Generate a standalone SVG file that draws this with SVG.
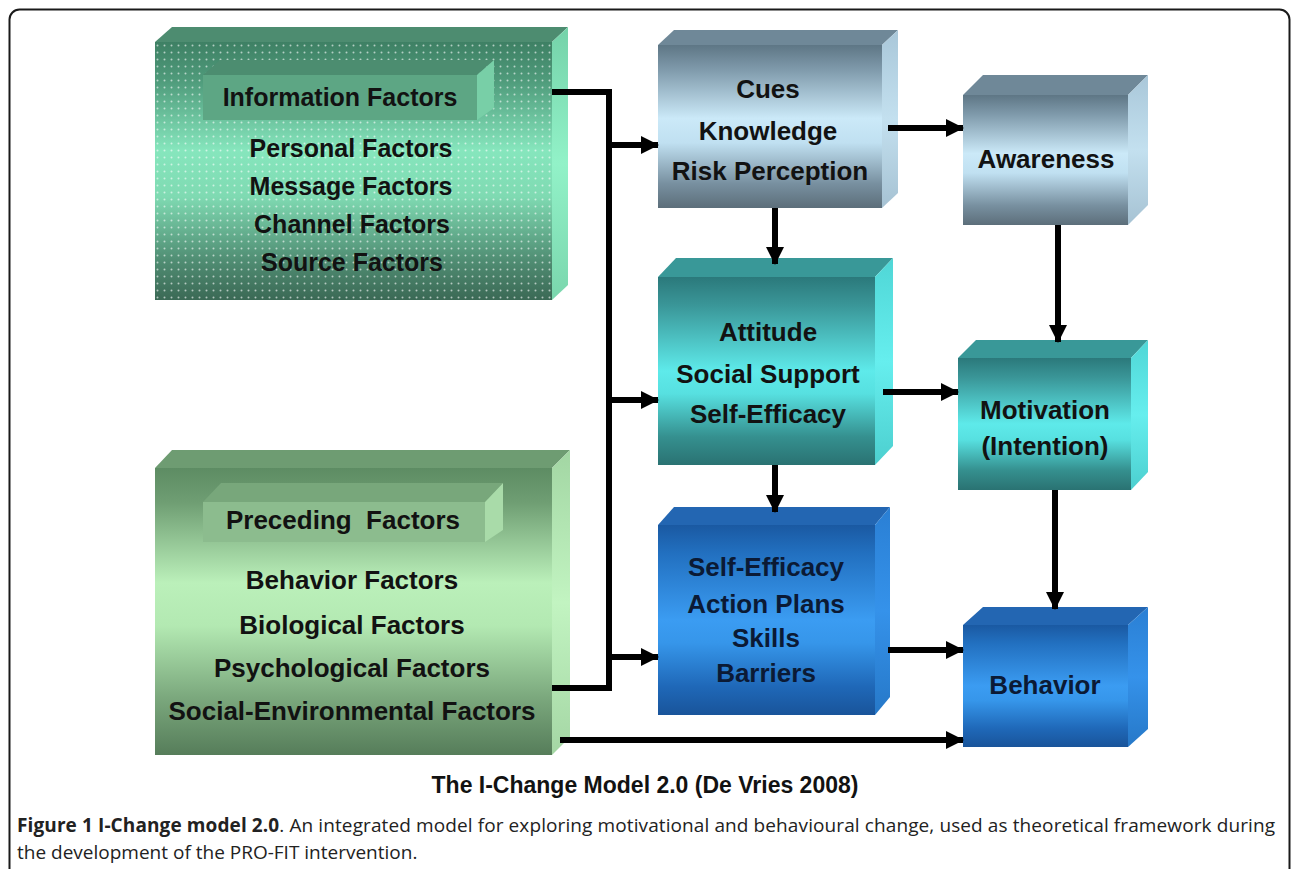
<svg xmlns="http://www.w3.org/2000/svg" width="1292" height="869" viewBox="0 0 1292 869">
<style>
.lbl{font-family:"Liberation Sans",Arial,sans-serif;font-weight:bold;font-size:26px;fill:#121212;text-anchor:middle}
.sm{font-size:25px}
.blue{fill:#0b1a35}
.cap{font-family:"Open Sans","Liberation Sans",sans-serif;font-size:19px;fill:#222}
.conn{fill:none;stroke:#000;stroke-width:6}
</style>
<defs>
<linearGradient id="gInfo" x1="0" y1="0" x2="0" y2="1">
<stop offset="0" stop-color="#3e8064"/><stop offset="0.15" stop-color="#4f9b7b"/><stop offset="0.42" stop-color="#86e6bd"/><stop offset="0.6" stop-color="#7fdab2"/><stop offset="0.85" stop-color="#4f8c72"/><stop offset="1" stop-color="#3b6955"/>
</linearGradient>
<linearGradient id="gInfoR" x1="0" y1="0" x2="0" y2="1"><stop offset="0" stop-color="#74d2a9"/><stop offset="0.5" stop-color="#92f2c8"/><stop offset="1" stop-color="#7ad6ad"/></linearGradient>
<linearGradient id="gPre" x1="0" y1="0" x2="0" y2="1">
<stop offset="0" stop-color="#5d8c63"/><stop offset="0.12" stop-color="#6f9e73"/><stop offset="0.4" stop-color="#bbf0ba"/><stop offset="0.55" stop-color="#b3e9b2"/><stop offset="0.8" stop-color="#7ba87d"/><stop offset="1" stop-color="#567d5a"/>
</linearGradient>
<linearGradient id="gPreR" x1="0" y1="0" x2="0" y2="1"><stop offset="0" stop-color="#a2d6a3"/><stop offset="0.5" stop-color="#c2f4c1"/><stop offset="1" stop-color="#a4d6a4"/></linearGradient>
<linearGradient id="gGrey" x1="0" y1="0" x2="0" y2="1">
<stop offset="0" stop-color="#5e7685"/><stop offset="0.15" stop-color="#7f9aab"/><stop offset="0.45" stop-color="#cbe9f8"/><stop offset="0.6" stop-color="#c0e0f1"/><stop offset="0.85" stop-color="#7890a0"/><stop offset="1" stop-color="#5c6e7a"/>
</linearGradient>
<linearGradient id="gGreyR" x1="0" y1="0" x2="0" y2="1"><stop offset="0" stop-color="#a9c7d9"/><stop offset="0.5" stop-color="#c3e0ef"/><stop offset="1" stop-color="#a6c2d3"/></linearGradient>
<linearGradient id="gTeal" x1="0" y1="0" x2="0" y2="1">
<stop offset="0" stop-color="#2b797b"/><stop offset="0.15" stop-color="#3a9698"/><stop offset="0.5" stop-color="#5eeaea"/><stop offset="0.62" stop-color="#57e0e0"/><stop offset="0.85" stop-color="#35908f"/><stop offset="1" stop-color="#2a7272"/>
</linearGradient>
<linearGradient id="gTealR" x1="0" y1="0" x2="0" y2="1"><stop offset="0" stop-color="#4fd6d6"/><stop offset="0.5" stop-color="#66eeee"/><stop offset="1" stop-color="#4ccfcf"/></linearGradient>
<linearGradient id="gBlue" x1="0" y1="0" x2="0" y2="1">
<stop offset="0" stop-color="#1a59a2"/><stop offset="0.15" stop-color="#2270c0"/><stop offset="0.5" stop-color="#3b9cf2"/><stop offset="0.62" stop-color="#3696ea"/><stop offset="0.85" stop-color="#1f68b8"/><stop offset="1" stop-color="#19549a"/>
</linearGradient>
<linearGradient id="gBlueR" x1="0" y1="0" x2="0" y2="1"><stop offset="0" stop-color="#2a7fd4"/><stop offset="0.5" stop-color="#3592ea"/><stop offset="1" stop-color="#2678c8"/></linearGradient>
<pattern id="dots" patternUnits="userSpaceOnUse" width="7" height="7"><circle cx="3.5" cy="3.5" r="1" fill="#ffffff" fill-opacity="0.6"/></pattern>
<marker id="ah" markerUnits="userSpaceOnUse" markerWidth="18" markerHeight="18" refX="17" refY="9" orient="auto"><path d="M0,0 L18,9 L0,18 Z" fill="#000"/></marker>
</defs>
<rect width="1292" height="869" fill="#fff"/>
<rect x="9.5" y="9.5" width="1280" height="900" rx="10" fill="none" stroke="#1a1a1a" stroke-width="2"/>

<g id="info-factors">
<rect x="155" y="42" width="397" height="258" fill="url(#gInfo)"/>
<rect x="155" y="42" width="397" height="258" fill="url(#dots)"/>
<polygon points="155,42 172,27 568,27 552,42" fill="#4d8c70"/>
<polygon points="552,42 568,27 568,285 552,300" fill="url(#gInfoR)"/>
<rect x="203" y="75" width="274" height="45" fill="#5da684"/>
<polygon points="203,75 220,60 494,60 477,75" fill="#4c8d70"/>
<polygon points="477,75 494,60 494,108 477,120" fill="#78cfa7"/>
<text class="lbl sm" x="340" y="106">Information Factors</text>
<text class="lbl sm" x="351" y="157">Personal Factors</text>
<text class="lbl sm" x="351" y="195">Message Factors</text>
<text class="lbl sm" x="352" y="233">Channel Factors</text>
<text class="lbl sm" x="352" y="271">Source Factors</text>
</g>

<g id="preceding-factors">
<rect x="155" y="468" width="397" height="287" fill="url(#gPre)"/>
<polygon points="155,468 172,450 570,450 552,468" fill="#6e9c72"/>
<polygon points="552,468 570,450 570,737 552,755" fill="url(#gPreR)"/>
<rect x="203" y="502" width="282" height="40" fill="#8cbc8e"/>
<polygon points="203,502 221,483 503,483 485,502" fill="#78a77b"/>
<polygon points="485,502 503,483 503,530 485,542" fill="#a9dba9"/>
<text class="lbl" x="343" y="529" xml:space="preserve">Preceding  Factors</text>
<text class="lbl" x="352" y="589">Behavior Factors</text>
<text class="lbl" x="352" y="634">Biological Factors</text>
<text class="lbl" x="352" y="677">Psychological Factors</text>
<text class="lbl" x="352" y="720">Social-Environmental Factors</text>
</g>

<g id="cues">
<rect x="658" y="45" width="224" height="163" fill="url(#gGrey)"/>
<polygon points="658,45 674,30 898,30 882,45" fill="#6f8898"/>
<polygon points="882,45 898,30 898,193 882,208" fill="url(#gGreyR)"/>
<text class="lbl" x="768" y="98">Cues</text>
<text class="lbl" x="768" y="140">Knowledge</text>
<text class="lbl" x="770" y="180">Risk Perception</text>
</g>

<g id="awareness">
<rect x="963" y="95" width="165" height="130" fill="url(#gGrey)"/>
<polygon points="963,95 983,75 1148,75 1128,95" fill="#6f8898"/>
<polygon points="1128,95 1148,75 1148,205 1128,225" fill="url(#gGreyR)"/>
<text class="lbl" x="1046" y="168">Awareness</text>
</g>

<g id="attitude">
<rect x="658" y="277" width="217" height="188" fill="url(#gTeal)"/>
<polygon points="658,277 676,258 893,258 875,277" fill="#399898"/>
<polygon points="875,277 893,258 893,446 875,465" fill="url(#gTealR)"/>
<text class="lbl" x="768" y="341">Attitude</text>
<text class="lbl" x="768" y="383">Social Support</text>
<text class="lbl" x="768" y="423">Self-Efficacy</text>
</g>

<g id="motivation">
<rect x="958" y="358" width="173" height="132" fill="url(#gTeal)"/>
<polygon points="958,358 976,340 1148,340 1131,358" fill="#399898"/>
<polygon points="1131,358 1148,340 1148,472 1131,490" fill="url(#gTealR)"/>
<text class="lbl" x="1045" y="419">Motivation</text>
<text class="lbl" x="1045" y="455">(Intention)</text>
</g>

<g id="self-efficacy">
<rect x="658" y="525" width="217" height="190" fill="url(#gBlue)"/>
<polygon points="658,525 674,507 890,507 875,525" fill="#2366b2"/>
<polygon points="875,525 890,507 890,697 875,715" fill="url(#gBlueR)"/>
<text class="lbl blue" x="766" y="576">Self-Efficacy</text>
<text class="lbl blue" x="766" y="613">Action Plans</text>
<text class="lbl blue" x="766" y="647">Skills</text>
<text class="lbl blue" x="766" y="682">Barriers</text>
</g>

<g id="behavior">
<rect x="963" y="625" width="165" height="122" fill="url(#gBlue)"/>
<polygon points="963,625 983,607 1148,607 1128,625" fill="#2366b2"/>
<polygon points="1128,625 1148,607 1148,729 1128,747" fill="url(#gBlueR)"/>
<text class="lbl blue" x="1045" y="694">Behavior</text>
</g>

<g id="connectors">
<path class="conn" d="M552,92 H609 V688 H552"/>
<path class="conn" d="M609,145 H658" marker-end="url(#ah)"/>
<path class="conn" d="M609,400 H658" marker-end="url(#ah)"/>
<path class="conn" d="M609,657 H658" marker-end="url(#ah)"/>
<path class="conn" d="M888,128 H963" marker-end="url(#ah)"/>
<path class="conn" d="M775,208 V264" marker-end="url(#ah)"/>
<path class="conn" d="M1058,225 V342" marker-end="url(#ah)"/>
<path class="conn" d="M883,392 H958" marker-end="url(#ah)"/>
<path class="conn" d="M775,465 V512" marker-end="url(#ah)"/>
<path class="conn" d="M1055,490 V609" marker-end="url(#ah)"/>
<path class="conn" d="M888,650 H963" marker-end="url(#ah)"/>
<path class="conn" d="M560,740 H963" marker-end="url(#ah)"/>
</g>

<text class="lbl" style="font-size:23px" x="645" y="793">The I-Change Model 2.0 (De Vries 2008)</text>
<text class="cap" x="17" y="832" textLength="1258" lengthAdjust="spacing"><tspan font-weight="bold">Figure 1 I-Change model 2.0</tspan>. An integrated model for exploring motivational and behavioural change, used as theoretical framework during</text>
<text class="cap" x="17" y="859">the development of the PRO-FIT intervention.</text>
</svg>
